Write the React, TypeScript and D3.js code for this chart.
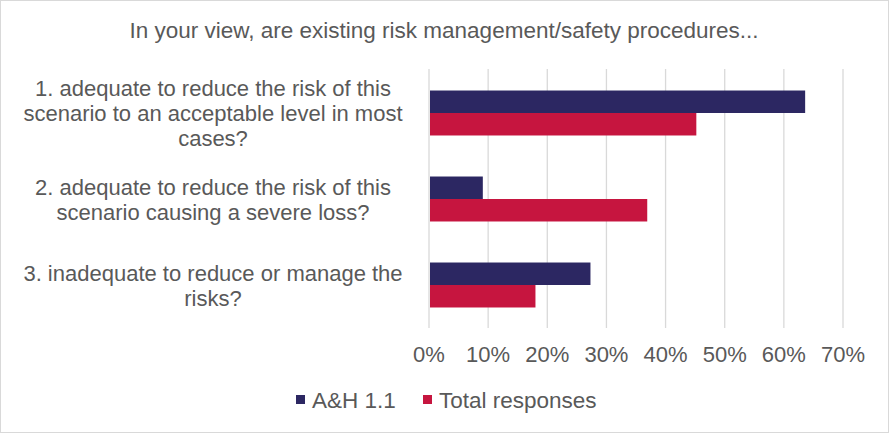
import * as React from "react";
import * as d3 from "d3";

const width = 889;
const height = 433;

const title = "In your view, are existing risk management/safety procedures...";

const categories = ["q1", "q2", "q3"];
const categoryLines = [
  ["1. adequate to reduce the risk of this", "scenario to an acceptable level in most", "cases?"],
  ["2. adequate to reduce the risk of this", "scenario causing a severe loss?"],
  ["3. inadequate to reduce or manage the", "risks?"],
];

const seriesNames = ["A&H 1.1", "Total responses"];
const seriesColors = ["#2C2762", "#C6153F"];
const ahValues = [0.636, 0.091, 0.273];
const totalValues = [0.452, 0.369, 0.18];

const xTicks = [0, 0.1, 0.2, 0.3, 0.4, 0.5, 0.6, 0.7];

const margin = { left: 429, right: 46, top: 70, bottom: 105 };
const textColor = "#595959";
const gridColor = "#D9D9D9";
const font = "'Liberation Sans', Arial, sans-serif";

export default function App() {
  const x = d3
    .scaleLinear()
    .domain([0, 0.7])
    .range([margin.left, width - margin.right]);

  const y = d3
    .scaleBand()
    .domain(categories)
    .range([margin.top, height - margin.bottom])
    .paddingInner(0.477)
    .paddingOuter(0.2385);

  const inner = d3
    .scaleBand()
    .domain(seriesNames)
    .range([0, y.bandwidth()]);

  const series = [ahValues, totalValues];
  const lineH = 25;

  return (
    <svg
      width={width}
      height={height}
      style={{ position: "absolute", left: 0, top: 0, background: "#fff" }}
      fontFamily={font}
    >
      <rect x={0.5} y={0.5} width={width - 1} height={height - 1} fill="#fff" stroke={gridColor} />
      <text x={444} y={38} textAnchor="middle" fontSize={22.5} fill={textColor}>
        {title}
      </text>

      {xTicks.map((t) => (
        <g key={t}>
          <line
            x1={x(t)}
            x2={x(t)}
            y1={margin.top - 1}
            y2={height - margin.bottom}
            stroke={gridColor}
            strokeWidth={1.3}
          />
          <text x={x(t)} y={362} textAnchor="middle" fontSize={22} fill={textColor}>
            {d3.format(".0%")(t)}
          </text>
        </g>
      ))}

      {categories.map((c, i) => (
        <g key={c}>
          {series.map((vals, s) => (
            <rect
              key={s}
              x={x(0) + 1}
              y={(y(c) ?? 0) + (inner(seriesNames[s]) ?? 0)}
              width={x(vals[i]) - x(0) - 1}
              height={inner.bandwidth()}
              fill={seriesColors[s]}
            />
          ))}
          {categoryLines[i].map((line, j) => {
            const mid = (y(c) ?? 0) + y.bandwidth() / 2;
            const n = categoryLines[i].length;
            const base = mid + 8 + (j - (n - 1) / 2) * lineH;
            return (
              <text key={j} x={213} y={base} textAnchor="middle" fontSize={22} fill={textColor}>
                {line}
              </text>
            );
          })}
        </g>
      ))}

      {seriesNames.map((name, s) => {
        const lx = s === 0 ? 296 : 423;
        return (
          <g key={name}>
            <rect x={lx} y={395} width={9} height={9} fill={seriesColors[s]} />
            <text x={lx + 16} y={408} fontSize={22.5} fill={textColor}>
              {name}
            </text>
          </g>
        );
      })}
    </svg>
  );
}
